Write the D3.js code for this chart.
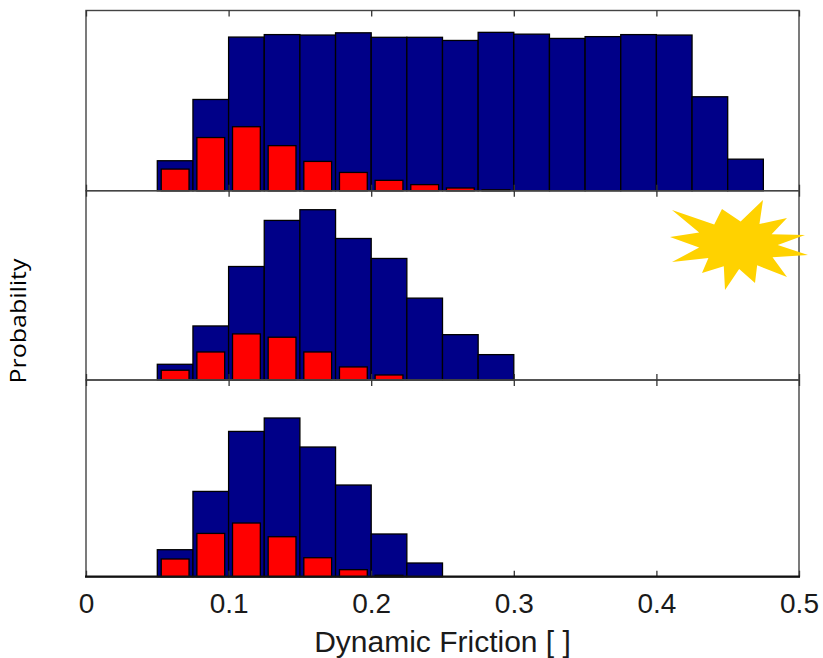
<!DOCTYPE html>
<html>
<head>
<meta charset="utf-8">
<script src="https://cdn.jsdelivr.net/npm/d3@7"></script>
<style>
body { margin: 0; background: #fff; }
</style>
</head>
<body>
<svg id="chart" width="823" height="658"></svg>
<script>
// histogram bins (left edges) and bin width
const binWidth = 0.025;
const binLefts = [0.05, 0.075, 0.1, 0.125, 0.15, 0.175, 0.2, 0.225, 0.25, 0.275,
                  0.3, 0.325, 0.35, 0.375, 0.4, 0.425, 0.45];

// top panel
const topBlue = [0.0133, 0.0405, 0.0682, 0.0693, 0.0691, 0.0701, 0.0681, 0.0681, 0.0667,
                 0.0703, 0.0695, 0.0676, 0.0684, 0.0693, 0.0691, 0.0417, 0.0140];
const topRed  = [0.0096, 0.0236, 0.0284, 0.0200, 0.0130, 0.0081, 0.0046, 0.0027, 0.0012, 0.0004];

// middle panel
const midBlue = [0.0166, 0.0571, 0.1199, 0.1686, 0.1799, 0.1495, 0.1284, 0.0865, 0.0479, 0.0268];
const midRed  = [0.0103, 0.0296, 0.0487, 0.0452, 0.0296, 0.0138, 0.0053];

// bottom panel
const botBlue = [0.0384, 0.1214, 0.2068, 0.2259, 0.1846, 0.1305, 0.0608, 0.0195];
const botRed  = [0.0252, 0.0616, 0.0764, 0.0569, 0.0270, 0.0100, 0.0020];

const xTicks = [0, 0.1, 0.2, 0.3, 0.4, 0.5];
const yMaxes = [0.08, 0.2, 0.28];

const svg = d3.select("#chart");
const x = d3.scaleLinear().domain([0, 0.5]).range([86, 799]);

const panels = [
  {blue: topBlue, red: topRed, y0: 10.5, y1: 190.7, yMax: yMaxes[0]},
  {blue: midBlue, red: midRed, y0: 190.7, y1: 380, yMax: yMaxes[1]},
  {blue: botBlue, red: botRed, y0: 380, y1: 576.7, yMax: yMaxes[2]}
];

panels.forEach((p, i) => {
  const y = d3.scaleLinear().domain([0, p.yMax]).range([p.y1, p.y0]);
  const g = svg.append("g");
  const bw = x(binWidth) - x(0);

  g.selectAll(".blue")
    .data(p.blue)
    .join("rect")
    .attr("x", (d, k) => x(binLefts[k]))
    .attr("width", bw)
    .attr("y", d => y(d))
    .attr("height", d => y(0) - y(d))
    .attr("fill", "#000088")
    .attr("stroke", "#000")
    .attr("stroke-width", 1.3);

  g.selectAll(".red")
    .data(p.red)
    .join("rect")
    .attr("x", (d, k) => x(binLefts[k]) + bw * 0.11)
    .attr("width", bw * 0.78)
    .attr("y", d => y(d))
    .attr("height", d => y(0) - y(d))
    .attr("fill", "#ff0000")
    .attr("stroke", "#000")
    .attr("stroke-width", 1.3);

  // frame
  g.append("rect")
    .attr("x", x(0)).attr("y", p.y0)
    .attr("width", x(0.5) - x(0)).attr("height", p.y1 - p.y0)
    .attr("fill", "none").attr("stroke", "#444").attr("stroke-width", 1.4);

  // inward ticks top and bottom
  const topAxis = d3.axisTop(x).tickValues(xTicks).tickSize(-6).tickFormat("");
  g.append("g").attr("transform", `translate(0,${p.y0})`).call(topAxis)
    .call(a => a.select(".domain").remove())
    .call(a => a.selectAll("line").attr("stroke", "#333").attr("stroke-width", 1.3));

  const last = i === panels.length - 1;
  const botAxis = d3.axisBottom(x).tickValues(xTicks).tickSize(-6)
    .tickPadding(16)
    .tickFormat(last ? d3.format("") : "");
  const ga = g.append("g").attr("transform", `translate(0,${p.y1})`).call(botAxis)
    .call(a => a.select(".domain").remove())
    .call(a => a.selectAll("line").attr("stroke", "#333").attr("stroke-width", 1.3));
  ga.selectAll("text")
    .attr("font-family", "Liberation Sans, Arial, sans-serif")
    .attr("font-size", 28)
    .attr("fill", "#1a1a1a");
  if (last) {
    g.append("line")
      .attr("x1", x(0) - 1).attr("x2", x(0.5) + 1)
      .attr("y1", p.y1).attr("y2", p.y1)
      .attr("stroke", "#111").attr("stroke-width", 2.2);
  }
});

// axis labels
svg.append("text")
  .attr("x", (x(0) + x(0.5)) / 2)
  .attr("y", 652)
  .attr("text-anchor", "middle")
  .attr("font-family", "Liberation Sans, Arial, sans-serif")
  .attr("font-size", 30)
  .attr("fill", "#1a1a1a")
  .text("Dynamic Friction [ ]");

svg.append("text")
  .attr("transform", "translate(26,321) rotate(-90) scale(1,0.86)")
  .attr("text-anchor", "middle")
  .attr("font-family", "Open Sans, sans-serif")
  .attr("font-size", 25)
  .attr("fill", "#000")
  .text("Probability");

// yellow burst marker
const burstCenter = [738, 245];
const burstTips = [[-66, -35], [-16, -36], [25, -45], [49, -27], [67, -10], [70, 10],
                   [49, 32], [17, 38], [-13, 45], [-36, 28], [-66, 17], [-68, -8]];
const burstPts = [];
burstTips.forEach((t, k) => {
  const n = burstTips[(k + 1) % burstTips.length];
  burstPts.push(t);
  burstPts.push([(t[0] + n[0]) / 2 * 0.58, (t[1] + n[1]) / 2 * 0.58]);
});
svg.append("path")
  .attr("transform", `translate(${burstCenter[0]},${burstCenter[1]})`)
  .attr("d", d3.line()(burstPts) + "Z")
  .attr("fill", "#ffd200");
</script>
</body>
</html>
